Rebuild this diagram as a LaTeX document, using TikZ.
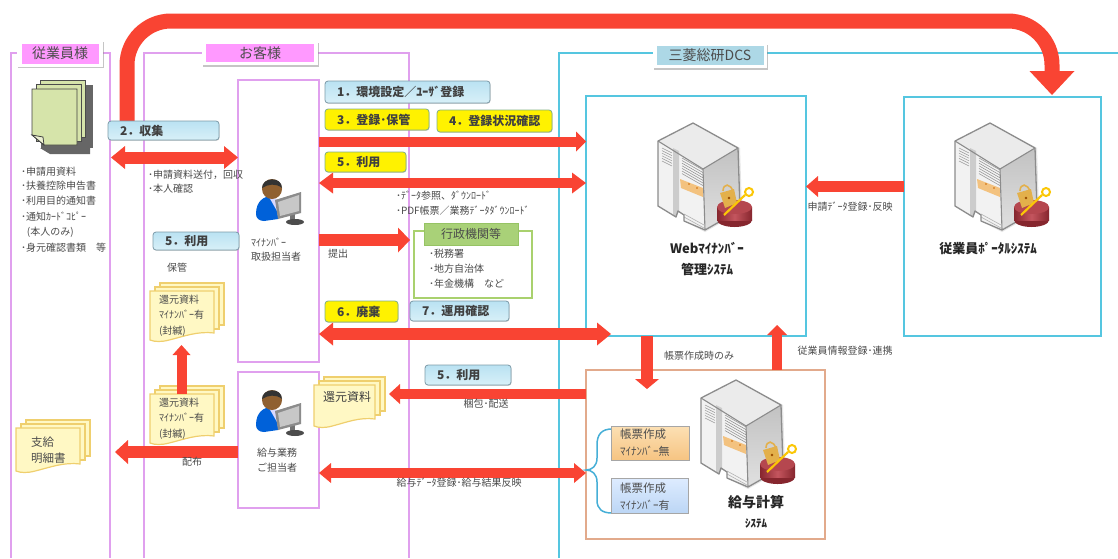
\documentclass[tikz,border=0pt]{standalone}
\usepackage{fontspec}
\setmainfont{Noto Sans CJK JP}
\usetikzlibrary{arrows.meta,shadows,calc}
\definecolor{redar}{HTML}{F94433}
\definecolor{lanepink}{HTML}{E0A0EE}
\definecolor{lanecyan}{HTML}{55C6E0}
\definecolor{txtgrey}{HTML}{4A4A4A}
\definecolor{cyldark}{HTML}{86262E}
\definecolor{cylmid}{HTML}{C4555E}
\definecolor{cyltop}{HTML}{B5474F}
\definecolor{panelor}{HTML}{F3C27F}
\definecolor{lockyel}{HTML}{E3B04B}
\definecolor{paperfill}{HTML}{FFF8C4}
\definecolor{paperedge}{HTML}{EFCF6E}
\newcommand{\fs}[1]{\fontsize{#1}{#1}\selectfont}
\tikzset{
  every node/.style={outer sep=0pt,inner sep=0pt,text=txtgrey},
  lanepath/.style={draw=lanepink,line width=1.3pt},
  lanecy/.style={draw=lanecyan,line width=1.2pt},
  pinkbox/.style={draw=lanepink,line width=1.3pt,fill=white,anchor=north west},
  cyanbox/.style={draw=lanecyan,line width=1.2pt,fill=white,anchor=north west},
  lanelabel/.style={fill=white,drop shadow={shadow xshift=0.5pt,shadow yshift=-1.5pt,fill=black!45},anchor=center},
  btn/.style={rounded corners=3pt,anchor=north west,inner xsep=12pt,align=left,font=\bfseries\fs{12},text=black!75,
     drop shadow={shadow xshift=0.5pt,shadow yshift=-0.8pt,fill=black!35}},
  btnblue/.style={btn,draw=black!10!cyan!30!gray,line width=0.8pt,
     top color={rgb,255:red,186;green,226;blue,242},bottom color={rgb,255:red,216;green,240;blue,248}},
  btnyel/.style={btn,draw={rgb,255:red,130;green,175;blue,130},line width=0.8pt,fill=yellow},
  small/.style={font=\fs{10},text=txtgrey,align=left},
  fat/.style n args={3}{draw=redar,line width=#1pt,line cap=butt,
     -{Triangle[length=#2pt,width=#3pt,line width=0pt,fill=redar]}},
  fatboth/.style n args={3}{draw=redar,line width=#1pt,line cap=butt,
     {Triangle[length=#2pt,width=#3pt,line width=0pt,fill=redar]}-{Triangle[length=#2pt,width=#3pt,line width=0pt,fill=redar]}},
  serverpic/.pic={
    \fill[black!10] (-35,18)--(-35,83)--(-17,94)--(-15,88)--(-9,92)--(-9,98)--(12,109)--(49,88)--(47,25)--(0,0)--cycle;
    \fill[black!8] (0,0)--(45,25)--(10,46)--(-35,18)--cycle;
    \fill[black!5] (-35,18)--(10,46)--(12,107)--(-9,98)--(-9,92)--(-15,88)--(-17,94)--(-35,83)--cycle;
    \shade[top color=black!24,bottom color=black!12] (45,25)--(47,87)--(12,107)--(10,46)--cycle;
    \fill[black!20] (-20,25)--(-14,28)--(-14,88)--(-17,94)--(-20,92)--cycle;
    \foreach \i in {0,2.6,...,15}{\draw[black!40,line width=.5pt] (-31,25+\i)--(-21,30+\i);}
    \foreach \i in {0,2.6,...,18}{\draw[black!45,line width=.5pt] (-11,35+\i)--(10,47+\i);}
    \draw[black!30,line width=.6pt] (-9,91)--(11,102) (-9,94)--(11,105);
    \fill[panelor] (-13,56)--(10,65)--(10,74)--(-12,65)--cycle;
    \fill[orange!80!black] (-4,61) circle (.8) (4,65) circle (.8);
    \draw[black!45,line width=1.3pt,line join=round] (0,0)--(45,25)--(47,87)--(12,107)--(-9,98)--(-9,92)--(-15,88)--(-17,94)--(-35,83)--(-35,18)--cycle;
    \draw[black!45,line width=1.1pt,line join=round] (-35,18)--(10,46)--(45,25) (10,46)--(12,107);
    \fill[cyldark] (41.5,97) ellipse[x radius=17.5,y radius=7];
    \shade[left color=cyldark,right color=cyldark,middle color=cylmid] (24,84) rectangle (59,97);
    \fill[cyltop] (41.5,84) ellipse[x radius=17.5,y radius=7];
    \draw[lockyel,line width=1.6pt] (30,68) .. controls (30,60) and (38,60) .. (40,69);
    \fill[lockyel] (27,70)--(41,66)--(44,80)--(32,85)--cycle;
    \fill[orange!60!black] (36,75) circle (1.3);
    \draw[yellow!60!orange,line width=2.2pt] (31,92)--(52,72);
    \draw[yellow!60!orange,line width=2pt] (56,69) circle (4);
  },
  personpic/.pic={
    \fill[blue!55!cyan!85!black] (-16,25) .. controls (-16,12) and (-8,7) .. (0,7) .. controls (4,12) and (6,24) .. (6,30) -- (-8,32) .. controls (-13,32) and (-16,29) .. (-16,25) -- cycle;
    \fill[white!85!blue] (-3,8)--(5,10)--(5,22)--cycle;
    \fill[brown!75!black] (0,0) circle (10);
    \fill[black!80] (-10,-1) .. controls (-10,-12) and (10,-13) .. (10,-1) .. controls (4,-6) and (-4,-5) .. (-10,-1) -- cycle;
    \fill[black!55] (18,24) rectangle (23,31);
    \fill[black!70] (23,33) ellipse[x radius=9,y radius=3];
    \fill[black!45] (3,11)--(29,3)--(29,24)--(6,30)--cycle;
    \fill[black!22] (6,13)--(27,6)--(27,22)--(8,27)--cycle;
  },
  stackpic/.pic={
    \foreach \k/\dx/\dy in {2/10/-8,1/5/-4}{
      \draw[draw=paperedge,fill=paperfill,line width=1.2pt] (\dx,\dy) rectangle (\stW+\dx,\stH-8+\dy);
    }
    \draw[draw=paperedge,fill=paperfill,line width=1.2pt] (0,0)--(\stW,0)--(\stW,\stH-8) .. controls (\stW*.75,\stH-10) and (\stW*.55,\stH-5) .. (\stW*.3,\stH-1) .. controls (\stW*.18,\stH+1) and (\stW*.08,\stH+1) .. (0,\stH-1)--cycle;
  },
}
\newcommand{\stW}{64}
\newcommand{\stH}{50}
\begin{document}
\begin{tikzpicture}[x=1pt,y=-1pt,line join=miter]
\useasboundingbox (0,0) rectangle (1118,558);

% lanes
\draw[lanepath] (11,558)--(11,53)--(110,53)--(110,558);
\draw[lanepath] (144,558)--(144,53)--(409,53)--(409,558);
\draw[lanecy] (559,558)--(559,53)--(1118,53);

% inner boxes
\node[pinkbox,minimum width=81pt,minimum height=282pt] (tanto) at (238,80) {};
\node[pinkbox,minimum width=81pt,minimum height=136pt] (kyuyo) at (238,372) {};
\node[cyanbox,minimum width=220pt,minimum height=240pt] (web) at (586,96) {};
\node[cyanbox,minimum width=197pt,minimum height=239pt] (portal) at (904,97) {};
\node[anchor=north west,draw={rgb,255:red,226;green,170;blue,140},line width=1.2pt,fill=white,minimum width=239pt,minimum height=169pt] (pay) at (586,370) {};

% big arrow
\coordinate (bigS) at (127,122);
\coordinate (bigE) at (1052,95);
\draw[draw=redar,line width=15pt,rounded corners=44pt,line cap=butt,-{Triangle[length=24pt,width=45pt,line width=0pt,fill=redar]}]
   (bigS)--(127,21)--(1052,21)--(bigE);

% section labels
\node[lanelabel,minimum width=86pt,minimum height=26pt] (lbA) at (60,53.5) {};
\node[fill={rgb,255:red,255;green,153;blue,255},minimum width=77pt,minimum height=20pt,font=\fs{14},text=black!70] at (lbA) {従業員様};
\node[lanelabel,minimum width=116pt,minimum height=24pt] (lbB) at (260,53) {};
\node[fill={rgb,255:red,255;green,153;blue,255},minimum width=108pt,minimum height=18pt,font=\fs{14},text=black!70] at (lbB) {お客様};
\node[lanelabel,minimum width=114pt,minimum height=25pt] (lbC) at (710,55.5) {};
\node[fill={rgb,255:red,173;green,216;blue,230},minimum width=107pt,minimum height=19pt,font=\fs{14},text=black!70] at (lbC) {三菱総研DCS};

% green doc pile
\fill[black!60] (41,85) rectangle (93,148);
\fill[black!60] (40,148)--(90,148)--(90,154)--(50,154)--(40,148)--cycle;
\node[anchor=north west,draw=black!70,fill={rgb,255:red,214;green,228;blue,170},minimum width=45pt,minimum height=57pt,line width=.8pt] (d3) at (40,80) {};
\node[anchor=north west,draw=black!70,fill={rgb,255:red,214;green,228;blue,170},minimum width=45pt,minimum height=57pt,line width=.8pt] (d2) at (36,84) {};
\draw[draw=black!75,fill={rgb,255:red,214;green,228;blue,170},line width=.8pt] (32,89)--(77,89)--(77,145)--(44,145)--(32,135)--cycle;
\draw[draw=black!75,fill={rgb,255:red,236;green,240;blue,210},line width=.8pt] (32,135)--(43,137)--(44,145)--cycle;

% servers
\pic at (693,123) {serverpic};
\pic at (990,123) {serverpic};
\pic at (736,380) {serverpic};
% people
\pic at (272,189) {personpic};
\pic at (272,400) {personpic};
% stacks
\pic at (150,291) {stackpic};
\pic at (150,394) {stackpic};
\begin{scope}
\renewcommand{\stH}{44}
\pic at (16,428) {stackpic};
\end{scope}
\begin{scope}
\renewcommand{\stW}{61}\renewcommand{\stH}{42}
\pic at (314,385) {stackpic};
\end{scope}

% y-levels for connectors
\coordinate (yCol) at (0,157.5);
\coordinate (yReg) at (0,141.5);
\coordinate (yUse) at (0,183);
\coordinate (yTei) at (0,240);
\coordinate (yHai) at (0,334);
\coordinate (yKon) at (0,394);
\coordinate (yKyu) at (0,473);
\coordinate (yDis) at (0,452);
\coordinate (yPor) at (0,186.5);
\coordinate (colL) at (111,0);
\coordinate (disL) at (115,0);
\coordinate (konL) at (389,0);
\coordinate (haiR) at (611,0);
\coordinate (xDn) at (647,0);
\coordinate (xUp) at (777,0);
\coordinate (stA) at (181.5,394);
\coordinate (stB) at (181.5,345);
\coordinate (teiR) at (410,0);

% green office box
\node[anchor=north west,draw={rgb,255:red,169;green,209;blue,110},line width=2.5pt,fill=white,minimum width=118pt,minimum height=67pt] (gov) at (414,231) {};
\node[fill={rgb,255:red,169;green,209;blue,120},draw={rgb,255:red,150;green,195;blue,100},line width=1pt,minimum width=94pt,minimum height=22pt,font=\fs{12},text=black!70,drop shadow={shadow xshift=.5pt,shadow yshift=-1pt,fill=black!30}] (govt) at (471,234) {行政機関等};

% fat arrows
\draw[fatboth={12}{14}{23}] (colL|-yCol)--(tanto.west|-yCol);
\draw[fat={10}{10}{20}] (tanto.east|-yReg)--(web.west|-yReg);
\draw[fatboth={10}{14}{21}] (tanto.east|-yUse)--(web.west|-yUse);
\draw[fat={12}{12}{25}] (tanto.east|-yTei)--(teiR|-yTei);
\draw[fatboth={12}{14}{23}] (tanto.east|-yHai)--(haiR|-yHai);
\draw[fat={10}{11}{20}] (pay.west|-yKon)--(konL|-yKon);
\draw[fatboth={10}{12}{20}] (kyuyo.east|-yKyu)--(pay.west|-yKyu);
\draw[fat={12}{13}{24}] (kyuyo.west|-yDis)--(disL|-yDis);
\draw[fat={11}{12}{21}] (portal.west|-yPor)--(web.east|-yPor);
\draw[fat={12}{10}{24}] (xDn|-web.south)--($(xDn|-pay.north)+(0,19)$);
\draw[fat={10}{10}{20}] (xUp|-pay.north)--($(xUp|-web.south)+(0,-11)$);
\draw[fat={10}{10}{18}] (stA)--(stB);

% brace
\draw[draw={rgb,255:red,70;green,175;blue,215},line width=1.5pt] (612,429) .. controls (602,429) and (597,434) .. (597,445) -- (597,458) .. controls (597,466) and (592,470) .. (586,470) .. controls (592,470) and (597,474) .. (597,482) -- (597,500) .. controls (597,509) and (602,513) .. (612,513);
\node[anchor=north west,draw=black!35,line width=.8pt,top color={rgb,255:red,252;green,224;blue,180},bottom color={rgb,255:red,246;green,196;blue,130},minimum width=78pt,minimum height=34pt] (bOr) at (611,426) {};
\node[anchor=north west,draw=black!35,line width=.8pt,top color={rgb,255:red,222;green,236;blue,255},bottom color={rgb,255:red,188;green,214;blue,245},minimum width=77pt,minimum height=35pt] (bBl) at (611,478) {};
\node[anchor=west,font=\fs{11.5},align=left,text=black!70] at (620,434) {帳票作成};
\node[anchor=west,font=\fs{11},align=left,text=black!70] at (620,451) {ﾏｲﾅﾝﾊﾞｰ無};
\node[anchor=west,font=\fs{11.5},align=left,text=black!70] at (620,488) {帳票作成};
\node[anchor=west,font=\fs{11},align=left,text=black!70] at (620,505) {ﾏｲﾅﾝﾊﾞｰ有};

% buttons
\node[btnblue,text width=141pt,minimum height=22pt] (b1) at (325,81) {1．環境設定／ﾕｰｻﾞ登録};
\node[btnyel,text width=80pt,minimum height=21pt] (b3) at (325,109) {3．登録･保管};
\node[btnyel,text width=91pt,minimum height=22pt] (b4) at (437,110) {4．登録状況確認};
\node[btnyel,text width=57pt,minimum height=20pt] (b5a) at (325,152) {5．利用};
\node[btnblue,text width=87pt,minimum height=19pt] (b2) at (108,121) {2．収集};
\node[btnblue,text width=62pt,minimum height=18pt] (b5b) at (153,232) {5．利用};
\node[btnyel,text width=49pt,minimum height=21pt] (b6) at (325,301) {6．廃棄};
\node[btnblue,text width=75pt,minimum height=20pt] (b7) at (410,301) {7．運用確認};
\node[btnblue,text width=62pt,minimum height=20pt] (b5c) at (425,365) {5．利用};

% left list
\node[small,anchor=west] (l1) at (21,171.5) {･申請用資料};
\node[small,anchor=west] (l2) at (21,186) {･扶養控除申告書};
\node[small,anchor=west] (l3) at (21,201) {･利用目的通知書};
\node[small,anchor=west] (l4) at (21,217) {･通知ｶｰﾄﾞｺﾋﾟｰ};
\node[small,anchor=west] (l5) at (27,232) {(本人のみ)};
\node[small,anchor=west] (l6) at (21,248) {･身元確認書類　等};
\node[small,anchor=west] (c1) at (148,175) {･申請資料送付，回収};
\node[small,anchor=west] (c2) at (148,189) {･本人確認};
\node[small,anchor=center] (c3) at (177,268) {保管};
\node[small,anchor=west] (s1) at (159,300) {還元資料};
\node[small,anchor=west] (s2) at (159,315) {ﾏｲﾅﾝﾊﾞｰ有};
\node[small,anchor=west] (s3) at (159,331) {(封緘)};
\node[small,anchor=west] (s4) at (159,403) {還元資料};
\node[small,anchor=west] (s5) at (159,418) {ﾏｲﾅﾝﾊﾞｰ有};
\node[small,anchor=west] (s6) at (159,434) {(封緘)};
\node[anchor=west,font=\fs{11.5},text=black!70] (m1) at (31,442) {支給};
\node[anchor=west,font=\fs{11.5},text=black!70] (m2) at (31,458) {明細書};
\node[anchor=west,font=\fs{12},text=black!75] (k1) at (323,397) {還元資料};
\node[small,anchor=west] (t1) at (251,242) {ﾏｲﾅﾝﾊﾞｰ};
\node[small,anchor=west] (t2) at (251,257) {取扱担当者};
\node[small,anchor=center] (t3) at (277,453) {給与業務};
\node[small,anchor=center] (t4) at (277,468) {ご担当者};
\node[small,anchor=west] (p1) at (328,254) {提出};
\node[small,anchor=west] (p2) at (396,196) {･ﾃﾞｰﾀ参照、ﾀﾞｳﾝﾛｰﾄﾞ};
\node[small,anchor=west] (p3) at (396,211) {･PDF帳票／業務ﾃﾞｰﾀﾀﾞｳﾝﾛｰﾄﾞ};
\node[small,anchor=west] (g1) at (429,254) {･税務署};
\node[small,anchor=west] (g2) at (429,269) {･地方自治体};
\node[small,anchor=west] (g3) at (429,284) {･年金機構　など};
\node[small,anchor=center] (a1) at (192,462) {配布};
\node[small,anchor=center] (a2) at (486,404) {梱包･配送};
\node[small,anchor=center] (a3) at (459,483) {給与ﾃﾞｰﾀ登録･給与結果反映};
\node[small,anchor=center] (a4) at (699,356) {帳票作成時のみ};
\node[small,anchor=center] (a5) at (845,351) {従業員情報登録･連携};
\node[small,anchor=center] (a6) at (850,207) {申請ﾃﾞｰﾀ登録･反映};
% system titles
\node[anchor=center,font=\bfseries\fs{13},text=black!85] (w1) at (707,248) {Webﾏｲﾅﾝﾊﾞｰ};
\node[anchor=center,font=\bfseries\fs{13},text=black!85] (w2) at (707,269) {管理ｼｽﾃﾑ};
\node[anchor=center,font=\bfseries\fs{13},text=black!85] (w3) at (988,249) {従業員ﾎﾟｰﾀﾙｼｽﾃﾑ};
\node[anchor=center,font=\bfseries\fs{14},text=black!85] (w4) at (756,502) {給与計算};
\node[anchor=center,font=\bfseries\fs{11},text=black!85] (w5) at (756,523) {ｼｽﾃﾑ};
\end{tikzpicture}
\end{document}
